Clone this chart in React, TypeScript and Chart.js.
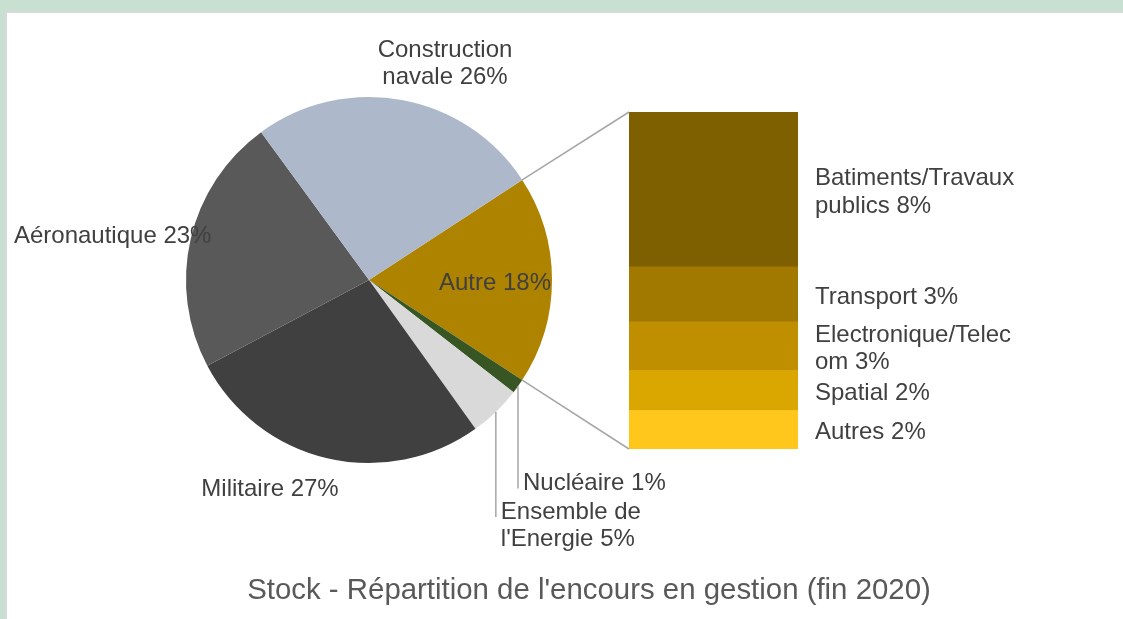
import React, { useEffect, useRef } from "react";
import { Chart, registerables } from "chart.js";

Chart.register(...registerables);

const FONT = '"Liberation Sans", Arial, Helvetica, sans-serif';
const LABEL_COLOR = "#404040";
const TITLE_COLOR = "#595959";
const LINE_COLOR = "#a6a6a6";
const LINE_H = 27.6;
const TEXT_SHIFT = 2;

// ---------- data ----------
const chartTitle = "Stock - Répartition de l'encours en gestion (fin 2020)";

// Breakdown of the "Autre" slice (bar), listed bottom to top
const barCategories = ["Autres", "Spatial", "Electronique/Telecom", "Transport", "Batiments/Travaux publics"];
const barValues = [2.1, 2.2, 2.65, 3.0, 8.45];
const barColors = ["#ffc61c", "#daa700", "#bf8f00", "#a17800", "#7f6000"];

// Main pie, clockwise after the "Autre" slice
const mainCategories = ["Nucléaire", "Ensemble de l'Energie", "Militaire", "Aéronautique", "Construction navale"];
const mainValues = [1.3, 4.6, 27.1, 22.7, 25.8];
const mainColors = ["#375623", "#d9d9d9", "#404040", "#595959", "#adb9ca"];

const otherCategory = "Autre";
const otherColor = "#ae8300";

const otherValue = barValues.reduce((a, b) => a + b, 0);
const pieCategories = [otherCategory, ...mainCategories];
const pieValues = [otherValue, ...mainValues];
const pieColors = [otherColor, ...mainColors];
const grandTotal = pieValues.reduce((a, b) => a + b, 0);

// ---------- helpers ----------
function wrapText(ctx: CanvasRenderingContext2D, text: string, maxW: number): string[] {
  const words = text.split(" ");
  const lines: string[] = [];
  let cur = "";
  for (const w of words) {
    const test = cur ? cur + " " + w : w;
    if (ctx.measureText(test).width <= maxW) {
      cur = test;
      continue;
    }
    if (cur) lines.push(cur);
    cur = "";
    let piece = "";
    for (const ch of w) {
      if (piece && ctx.measureText(piece + ch).width > maxW) {
        lines.push(piece);
        piece = ch;
      } else piece += ch;
    }
    cur = piece;
  }
  if (cur) lines.push(cur);
  return lines;
}

const pct = (v: number) => Math.round((v / grandTotal) * 100);

// label placement (relative to pie centre), index-aligned with pieCategories
type Place = { dx?: number; dy: number; wrap: number; leader?: boolean };
const piePlaces: Place[] = [
  { dx: 126, dy: 1, wrap: 400 },
  { dy: 201.5, wrap: 400, leader: true },
  { dy: 230, wrap: 150, leader: true },
  { dx: -99, dy: 207, wrap: 400 },
  { dx: -256.3, dy: -46, wrap: 400 },
  { dx: 76, dy: -218, wrap: 150 },
];

export default function App() {
  const pieRef = useRef<HTMLCanvasElement>(null);
  const barRef = useRef<HTMLCanvasElement>(null);

  useEffect(() => {
    if (!pieRef.current || !barRef.current) return;
    const W = 1123;
    const H = 619;

    const pieLabelPlugin = {
      id: "pieLabels",
      afterDatasetsDraw(chart: any) {
        const ctx: CanvasRenderingContext2D = chart.ctx;
        const meta = chart.getDatasetMeta(0);
        const a0 = meta.data[0];
        const cx = a0.x;
        const cy = a0.y;
        const r = a0.outerRadius;
        ctx.save();
        ctx.font = `24px ${FONT}`;
        ctx.fillStyle = LABEL_COLOR;
        ctx.textBaseline = "middle";
        pieCategories.forEach((name, i) => {
          const place = piePlaces[i];
          const lines = wrapText(ctx, `${name} ${pct(pieValues[i])}%`, place.wrap);
          if (place.leader) {
            const arc = meta.data[i];
            const mid = (arc.startAngle + arc.endAngle) / 2;
            const px = cx + Math.cos(mid) * r;
            const py = cy + Math.sin(mid) * r;
            const firstY = cy + place.dy;
            ctx.save();
            ctx.strokeStyle = LINE_COLOR;
            ctx.lineWidth = 1.5;
            ctx.beginPath();
            ctx.moveTo(px, py);
            ctx.lineTo(px, firstY + 7);
            ctx.stroke();
            ctx.restore();
            ctx.textAlign = "left";
            lines.forEach((ln, k) => ctx.fillText(ln, px + 5, firstY + TEXT_SHIFT + k * LINE_H));
          } else {
            ctx.textAlign = "center";
            const top = cy + place.dy - ((lines.length - 1) * LINE_H) / 2 + TEXT_SHIFT;
            lines.forEach((ln, k) => ctx.fillText(ln, cx + (place.dx || 0), top + k * LINE_H));
          }
        });
        // chart title
        ctx.font = `29.4px ${FONT}`;
        ctx.fillStyle = TITLE_COLOR;
        ctx.textAlign = "center";
        ctx.fillText(chartTitle, 589, 591);
        ctx.restore();
      },
    };

    const pie = new Chart(pieRef.current, {
      type: "pie",
      data: {
        labels: pieCategories,
        datasets: [
          {
            data: pieValues,
            backgroundColor: pieColors,
            borderWidth: 0,
            clip: false as any,
          },
        ],
      },
      options: {
        responsive: false,
        animation: false,
        rotation: 90 - (otherValue / grandTotal) * 180,
        layout: { padding: { left: 186, right: W - 552, top: 97, bottom: H - 463 } },
        plugins: { legend: { display: false }, tooltip: { enabled: false }, title: { display: false } },
        events: [],
      },
      plugins: [pieLabelPlugin],
    } as any);

    const barLabelPlugin = {
      id: "barLabels",
      afterDatasetsDraw(chart: any) {
        const ctx: CanvasRenderingContext2D = chart.ctx;
        const pm = pie.getDatasetMeta(0);
        const a0: any = pm.data[0];
        const topEl: any = chart.getDatasetMeta(barCategories.length - 1).data[0];
        const botEl: any = chart.getDatasetMeta(0).data[0];
        const barLeft = topEl.x - topEl.width / 2;
        const barRight = topEl.x + topEl.width / 2;
        ctx.save();
        // connectors between the "Autre" slice and the bar
        ctx.strokeStyle = LINE_COLOR;
        ctx.lineWidth = 1.5;
        ctx.beginPath();
        ctx.moveTo(a0.x + Math.cos(a0.startAngle) * a0.outerRadius, a0.y + Math.sin(a0.startAngle) * a0.outerRadius);
        ctx.lineTo(barLeft, topEl.y);
        ctx.moveTo(a0.x + Math.cos(a0.endAngle) * a0.outerRadius, a0.y + Math.sin(a0.endAngle) * a0.outerRadius);
        ctx.lineTo(barLeft, botEl.base);
        ctx.stroke();
        // segment labels
        ctx.font = `24px ${FONT}`;
        ctx.fillStyle = LABEL_COLOR;
        ctx.textBaseline = "middle";
        ctx.textAlign = "left";
        barCategories.forEach((name, i) => {
          const el: any = chart.getDatasetMeta(i).data[0];
          const mid = (el.y + el.base) / 2 + 1 + TEXT_SHIFT;
          const lines = wrapText(ctx, `${name} ${pct(barValues[i])}%`, 205);
          const top = mid - ((lines.length - 1) * LINE_H) / 2;
          lines.forEach((ln, k) => ctx.fillText(ln, barRight + 17, top + k * LINE_H));
        });
        ctx.restore();
      },
    };

    const bar = new Chart(barRef.current, {
      type: "bar",
      data: {
        labels: [otherCategory],
        datasets: barCategories.map((c, i) => ({
          label: c,
          data: [barValues[i]],
          backgroundColor: barColors[i],
          borderWidth: 0,
          barPercentage: 1,
          categoryPercentage: 1,
        })),
      },
      options: {
        responsive: false,
        animation: false,
        layout: { padding: { left: 629, right: W - 798, top: 112, bottom: H - 449 } },
        scales: {
          x: { stacked: true, display: false },
          y: { stacked: true, display: false, min: 0, max: otherValue },
        },
        plugins: { legend: { display: false }, tooltip: { enabled: false }, title: { display: false } },
        events: [],
      },
      plugins: [barLabelPlugin],
    } as any);

    return () => {
      bar.destroy();
      pie.destroy();
    };
  }, []);

  return (
    <div
      style={{
        position: "fixed",
        left: 0,
        top: 0,
        width: 1123,
        height: 619,
        overflow: "hidden",
        background: "#c8e0d2",
      }}
    >
      <div
        style={{
          position: "absolute",
          left: 5,
          top: 11,
          width: 1200,
          height: 700,
          background: "#ffffff",
          borderLeft: "2px solid #d9d9d9",
          borderTop: "2px solid #d9d9d9",
        }}
      />
      <canvas
        ref={pieRef}
        width={1123}
        height={619}
        style={{ position: "absolute", left: 0, top: 0, width: 1123, height: 619 }}
      />
      <canvas
        ref={barRef}
        width={1123}
        height={619}
        style={{ position: "absolute", left: 0, top: 0, width: 1123, height: 619 }}
      />
    </div>
  );
}
